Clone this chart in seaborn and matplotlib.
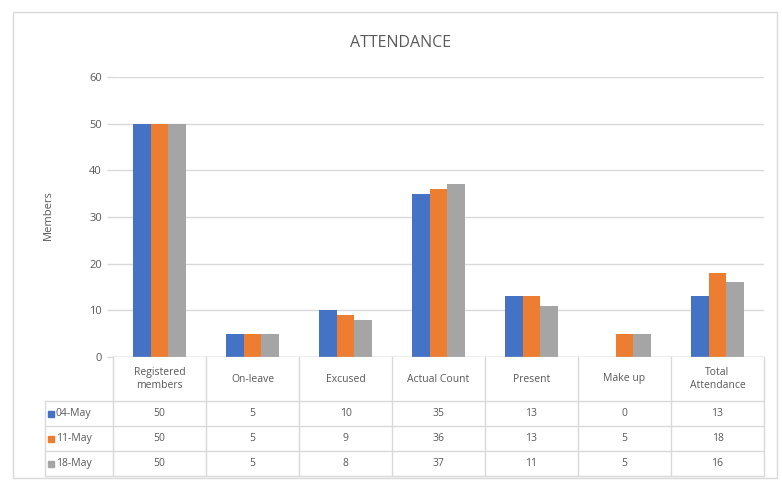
import matplotlib
matplotlib.use("Agg")
import matplotlib.pyplot as plt
import matplotlib.transforms as mtrans
from matplotlib.lines import Line2D
from matplotlib.patches import Rectangle
import seaborn as sns
import pandas as pd

categories = ["Registered\nmembers", "On-leave", "Excused", "Actual Count",
              "Present", "Make up", "Total\nAttendance"]
dates = ["04-May", "11-May", "18-May"]
may04 = [50, 5, 10, 35, 13, 0, 13]
may11 = [50, 5, 9, 36, 13, 5, 18]
may18 = [50, 5, 8, 37, 11, 5, 16]
series = [may04, may11, may18]
colors = ["#4472C4", "#ED7D31", "#A5A5A5"]

rows = []
for d, vals in zip(dates, series):
    for c, v in zip(categories, vals):
        rows.append({"Category": c, "Date": d, "Members": v})
df = pd.DataFrame(rows)

sns.set_theme(style="white")
plt.rcParams["font.family"] = ["Open Sans", "DejaVu Sans"]

W, H = 782, 480
fig = plt.figure(figsize=(W / 100, H / 100), dpi=100)
fig.patch.set_facecolor("white")


def fx(x):
    return x / W


def fy(y):
    return 1 - y / H


x0, x1, ytop, ybot = 113, 764, 77, 357
ax = fig.add_axes([fx(x0), fy(ybot), fx(x1) - fx(x0), (ybot - ytop) / H])
sns.barplot(data=df, x="Category", y="Members", hue="Date", palette=colors,
            width=0.58, saturation=1, linewidth=0, edgecolor="none",
            ax=ax, legend=False)
ax.set_ylim(0, 60)
ax.set_xlim(-0.5, len(categories) - 0.5)
ax.set_yticks(range(0, 61, 10))
ax.yaxis.grid(True, color="#D9D9D9", lw=1)
ax.set_axisbelow(True)
for s in ax.spines.values():
    s.set_visible(False)
ax.set_xticks([])
ax.set_xlabel("")
ax.set_ylabel("")
ax.tick_params(axis="y", left=True, length=4, width=1, color="#D9D9D9",
               pad=4, labelsize=8, labelcolor="#595959")

txt_color = "#595959"
line_color = "#D9D9D9"

# title and y label
fig.text(fx(401), fy(43), "ATTENDANCE", ha="center", va="center",
         fontsize=11.5, color=txt_color)
fig.text(fx(48), fy(215), "Members", ha="center", va="center",
         rotation=90, fontsize=8, color=txt_color)

# data table below the axes
bt = mtrans.blended_transform_factory(ax.transData, fig.transFigure)
row_lines = [401, 426, 451, 476]
row_centers = [413.5, 438.5, 463.5]
left_x = 45

# axis baseline
ax.axhline(0, color="#BFBFBF", lw=1)

for i in range(len(categories) + 1):
    fig.add_artist(Line2D([i - 0.5, i - 0.5], [fy(357), fy(476)],
                          transform=bt, color=line_color, lw=1))
fig.add_artist(Line2D([fx(left_x), fx(left_x)], [fy(401), fy(476)],
                      transform=fig.transFigure, color=line_color, lw=1))
for yy in row_lines:
    fig.add_artist(Line2D([fx(left_x), fx(x1)], [fy(yy), fy(yy)],
                          transform=fig.transFigure, color=line_color, lw=1))

for i, c in enumerate(categories):
    fig.text(i, fy(379), c, transform=bt, ha="center", va="center",
             fontsize=7.5, color=txt_color, linespacing=1.3)

for r, (d, vals, col) in enumerate(zip(dates, series, colors)):
    yc = fy(row_centers[r])
    fig.add_artist(Rectangle((fx(left_x + 3), yc - 3 / H), 6 / W, 6 / H,
                             transform=fig.transFigure, color=col))
    fig.text(fx(left_x + 11), yc, d, ha="left", va="center",
             fontsize=7.5, color=txt_color)
    for i, v in enumerate(vals):
        fig.text(i, yc, str(v), transform=bt, ha="center", va="center",
                 fontsize=7.5, color=txt_color)

# outer chart border
fig.add_artist(Rectangle((fx(13), fy(478)), (777 - 13) / W, (478 - 12) / H,
                         transform=fig.transFigure, fill=False,
                         edgecolor=line_color, lw=1))

fig.savefig("out.png", dpi=100)
